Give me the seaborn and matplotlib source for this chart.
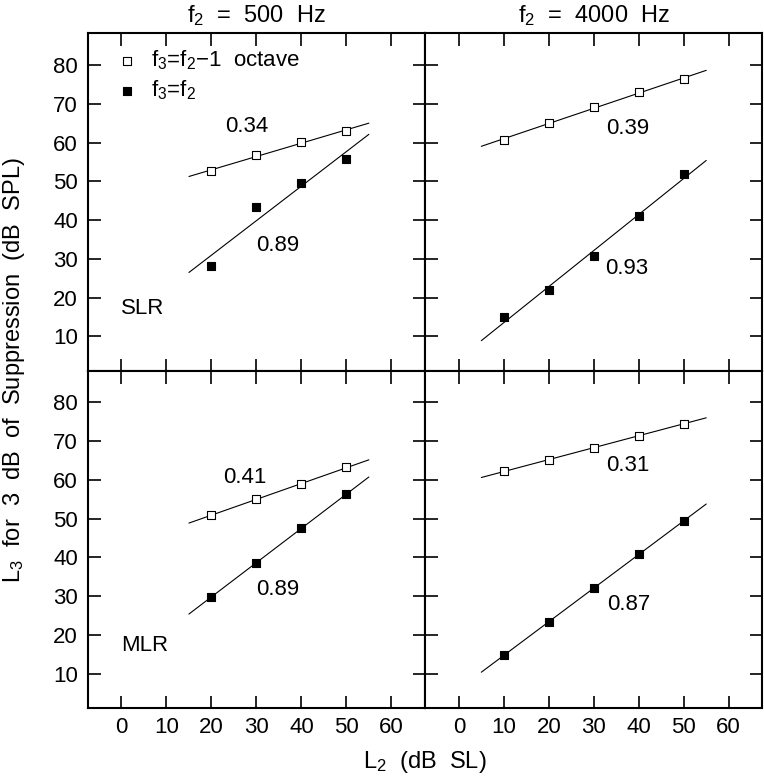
import numpy as np
import pandas as pd
import seaborn as sns
import matplotlib.pyplot as plt


# L2 levels (dB SL)
l2_500 = [20, 30, 40, 50]
l2_4000 = [10, 20, 30, 40, 50]

# L3 for 3 dB of suppression (dB SPL)
slr_500_oct = [52.7, 56.7, 60.2, 63.0]
slr_500_same = [28.3, 43.4, 49.7, 55.9]
slr_4000_oct = [60.6, 65.2, 69.2, 73.0, 76.3]
slr_4000_same = [15.0, 22.0, 30.8, 41.0, 52.0]
mlr_500_oct = [50.9, 55.0, 58.9, 63.2]
mlr_500_same = [29.8, 38.6, 47.5, 56.3]
mlr_4000_oct = [62.2, 65.2, 68.2, 71.4, 74.5]
mlr_4000_same = [14.7, 23.4, 32.0, 40.8, 49.4]

responses = ['SLR', 'MLR']
freqs = [500, 4000]
cond_labels = {'oct': 'f$_3$=f$_2$\u22121  octave', 'same': 'f$_3$=f$_2$'}

# slope annotations (text, x, y) per panel
slope_text = {
    ('SLR', 500): [('0.34', 27.8, 64.2), ('0.89', 34.8, 33.5)],
    ('SLR', 4000): [('0.39', 37.6, 63.6), ('0.93', 37.3, 27.5)],
    ('MLR', 500): [('0.41', 27.4, 60.7), ('0.89', 34.8, 31.7)],
    ('MLR', 4000): [('0.31', 37.6, 63.6), ('0.87', 37.8, 27.8)],
}

# tidy table
recs = []
series = {
    ('SLR', 500, 'oct'): (l2_500, slr_500_oct),
    ('SLR', 500, 'same'): (l2_500, slr_500_same),
    ('SLR', 4000, 'oct'): (l2_4000, slr_4000_oct),
    ('SLR', 4000, 'same'): (l2_4000, slr_4000_same),
    ('MLR', 500, 'oct'): (l2_500, mlr_500_oct),
    ('MLR', 500, 'same'): (l2_500, mlr_500_same),
    ('MLR', 4000, 'oct'): (l2_4000, mlr_4000_oct),
    ('MLR', 4000, 'same'): (l2_4000, mlr_4000_same),
}
for (resp, f, cond), (xs, ys) in series.items():
    for x, y in zip(xs, ys):
        recs.append(dict(response=resp, freq=f, cond=cond, L2=x, L3=y))
df = pd.DataFrame(recs)


sns.set_style('ticks')
plt.rcParams['font.family'] = ['Liberation Sans', 'DejaVu Sans']
plt.rcParams['mathtext.default'] = 'regular'
for k in ['text.color', 'axes.labelcolor', 'xtick.color', 'ytick.color', 'axes.edgecolor']:
    plt.rcParams[k] = 'black'
FS = 16
FS_LAB = 17

fig, axes = plt.subplots(2, 2, sharex=True, sharey=True, figsize=(7.64, 7.76), dpi=100)
fig.subplots_adjust(left=0.1148, right=0.998, top=0.957, bottom=0.088, wspace=0, hspace=0)

for i, resp in enumerate(responses):
    for j, f in enumerate(freqs):
        ax = axes[i, j]
        sub = df[(df.response == resp) & (df.freq == f)]
        for cond, face in [('oct', 'white'), ('same', 'black')]:
            d = sub[sub.cond == cond]
            slope, icpt = np.polyfit(d.L2, d.L3, 1)
            xs = np.array([d.L2.min() - 5, d.L2.max() + 5])
            sns.lineplot(x=xs, y=icpt + slope * xs, color='black', lw=0.8, ax=ax)
            sns.scatterplot(data=d, x='L2', y='L3', marker='s', s=32, color=face,
                            edgecolor='black', linewidth=0.8, ax=ax, zorder=3,
                            label=cond_labels[cond])
        if ax.get_legend() is not None:
            ax.get_legend().remove()
        for txt, tx, ty in slope_text[(resp, f)]:
            ax.text(tx, ty, txt, ha='center', va='center', fontsize=FS)
        if j == 0:
            ax.text(0, 17.3, resp, ha='left', va='center', fontsize=FS)

        ax.set_xlim(-7.5, 67.5)
        ax.set_ylim(1.2, 88.2)
        ax.set_xticks(range(0, 70, 10))
        ax.set_yticks(range(10, 90, 10))
        ax.tick_params(direction='in', top=True, right=True, length=9, width=1.2,
                       labelsize=FS, pad=7)
        for sp in ax.spines.values():
            sp.set_linewidth(1.5)
            sp.set_visible(True)
        ax.set_xlabel('')
        ax.set_ylabel('')

axes[0, 0].set_title('f$_2$  =  500  Hz', fontsize=FS_LAB, pad=8)
axes[0, 1].set_title('f$_2$  =  4000  Hz', fontsize=FS_LAB, pad=8)

axes[0, 0].legend(loc='upper left', bbox_to_anchor=(0.09, 0.955), frameon=False,
                  fontsize=FS, handlelength=0.8, handletextpad=0.7,
                  borderaxespad=0, borderpad=0, labelspacing=0.3)

fig.text(0.018, 0.523, 'L$_3$  for  3  dB  of  Suppression  (dB  SPL)', rotation=90,
         ha='center', va='center', fontsize=FS_LAB)
fig.text(0.556, 0.018, 'L$_2$  (dB  SL)', ha='center', va='center', fontsize=FS_LAB)

fig.savefig('out.png', dpi=100)
